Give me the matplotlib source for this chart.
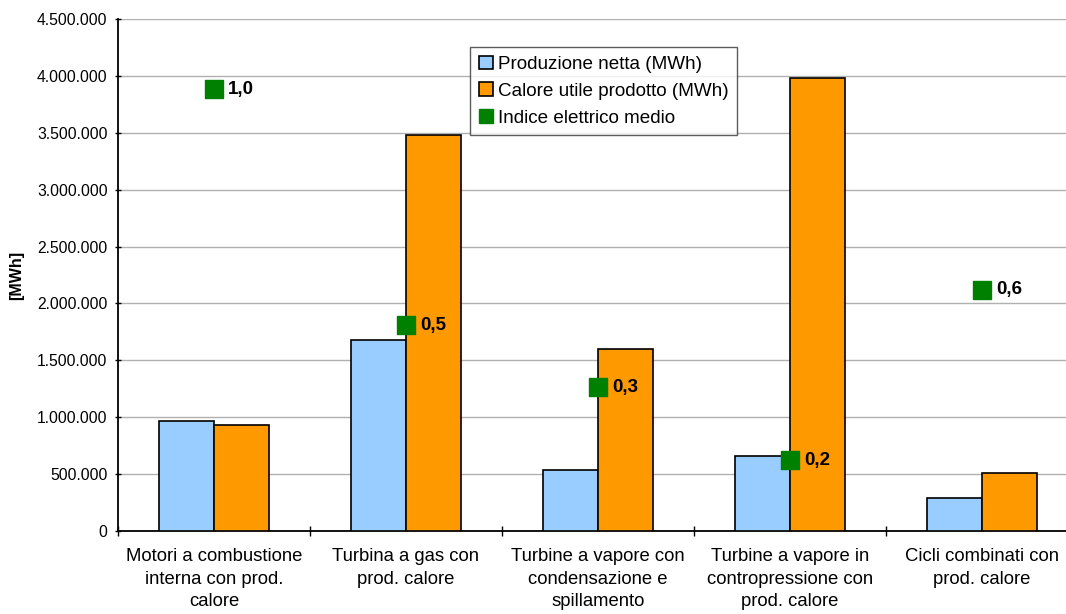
import numpy as np
import matplotlib.pyplot as plt
from matplotlib.ticker import FuncFormatter
from matplotlib.patches import Patch

plt.rcParams['font.family'] = ['Liberation Sans', 'DejaVu Sans']

# data
categorie = ["Motori a combustione\ninterna con prod.\ncalore",
             "Turbina a gas con\nprod. calore",
             "Turbine a vapore con\ncondensazione e\nspillamento",
             "Turbine a vapore in\ncontropressione con\nprod. calore",
             "Cicli combinati con\nprod. calore"]
produzione = [967000, 1678000, 539000, 662000, 290000]
calore = [934000, 3480000, 1600000, 3980000, 510000]
indice = [1.035, 0.482, 0.337, 0.166, 0.565]
indice_lbl = ["1,0", "0,5", "0,3", "0,2", "0,6"]

blu = '#99ccff'
arancio = '#ff9900'
verde = '#008000'

fig = plt.figure(figsize=(10.66, 6.14), dpi=100)
ax = fig.add_axes([118/1066, 1-531/614, 960/1066, 512/614])

x = np.arange(len(categorie))
w = 0.2865
ax.bar(x - w/2, produzione, w, color=blu, edgecolor='black', linewidth=1.2, zorder=3)
ax.bar(x + w/2, calore, w, color=arancio, edgecolor='black', linewidth=1.2, zorder=3)

ax.set_xlim(-0.5, len(categorie) - 0.5)
ax.set_ylim(0, 4500000)
ax.set_yticks(np.arange(0, 4500001, 500000))
ax.yaxis.set_major_formatter(FuncFormatter(lambda v, p: f"{int(v):,}".replace(",", ".")))
ax.grid(axis='y', color='#b0b0b0', linewidth=1, zorder=0)
ax.set_axisbelow(True)

ax.set_xticks(x)
ax.set_xticklabels(categorie, fontsize=13.3, linespacing=1.45)
ax.tick_params(axis='x', which='major', length=0, pad=12)
ax.set_xticks(np.arange(-0.5, len(categorie), 1), minor=True)
ax.tick_params(axis='x', which='minor', length=7, width=1, direction='inout')
ax.tick_params(axis='y', labelsize=11.3, length=5, width=1, direction='inout', pad=5)

for s in ['top', 'right']:
    ax.spines[s].set_visible(False)
for s in ['left', 'bottom']:
    ax.spines[s].set_linewidth(1.3)

ax.set_ylabel('[MWh]', fontsize=11.5, fontweight='bold')
ax.yaxis.set_label_coords(-94/960, 0.5)

# secondary axis for the electric index
ax2 = ax.twinx()
ax2.set_ylim(0, 1.2)
ax2.axis('off')
ax2.scatter(x, indice, marker='s', s=150, color=verde, zorder=5, clip_on=False)
for xi, yi, t in zip(x, indice, indice_lbl):
    ax2.annotate(t, (xi, yi), xytext=(10, 0), textcoords='offset points',
                 ha='left', va='center', fontsize=13.5, fontweight='bold')

handles = [Patch(facecolor=blu, edgecolor='black', linewidth=1.2, label='Produzione netta (MWh)'),
           Patch(facecolor=arancio, edgecolor='black', linewidth=1.2, label='Calore utile prodotto (MWh)'),
           Patch(facecolor=verde, edgecolor=verde, label='Indice elettrico medio')]
leg = ax2.legend(handles=handles, loc='upper left', bbox_to_anchor=(470/1066, 1-47/614),
                 bbox_transform=fig.transFigure, fontsize=13.6, frameon=True, fancybox=False,
                 handlelength=0.75, handleheight=0.75, handletextpad=0.3, borderpad=0.45,
                 labelspacing=0.5, borderaxespad=0)
leg.get_frame().set_edgecolor('#333333')
leg.get_frame().set_linewidth(1)

fig.savefig('out.png', dpi=100)
